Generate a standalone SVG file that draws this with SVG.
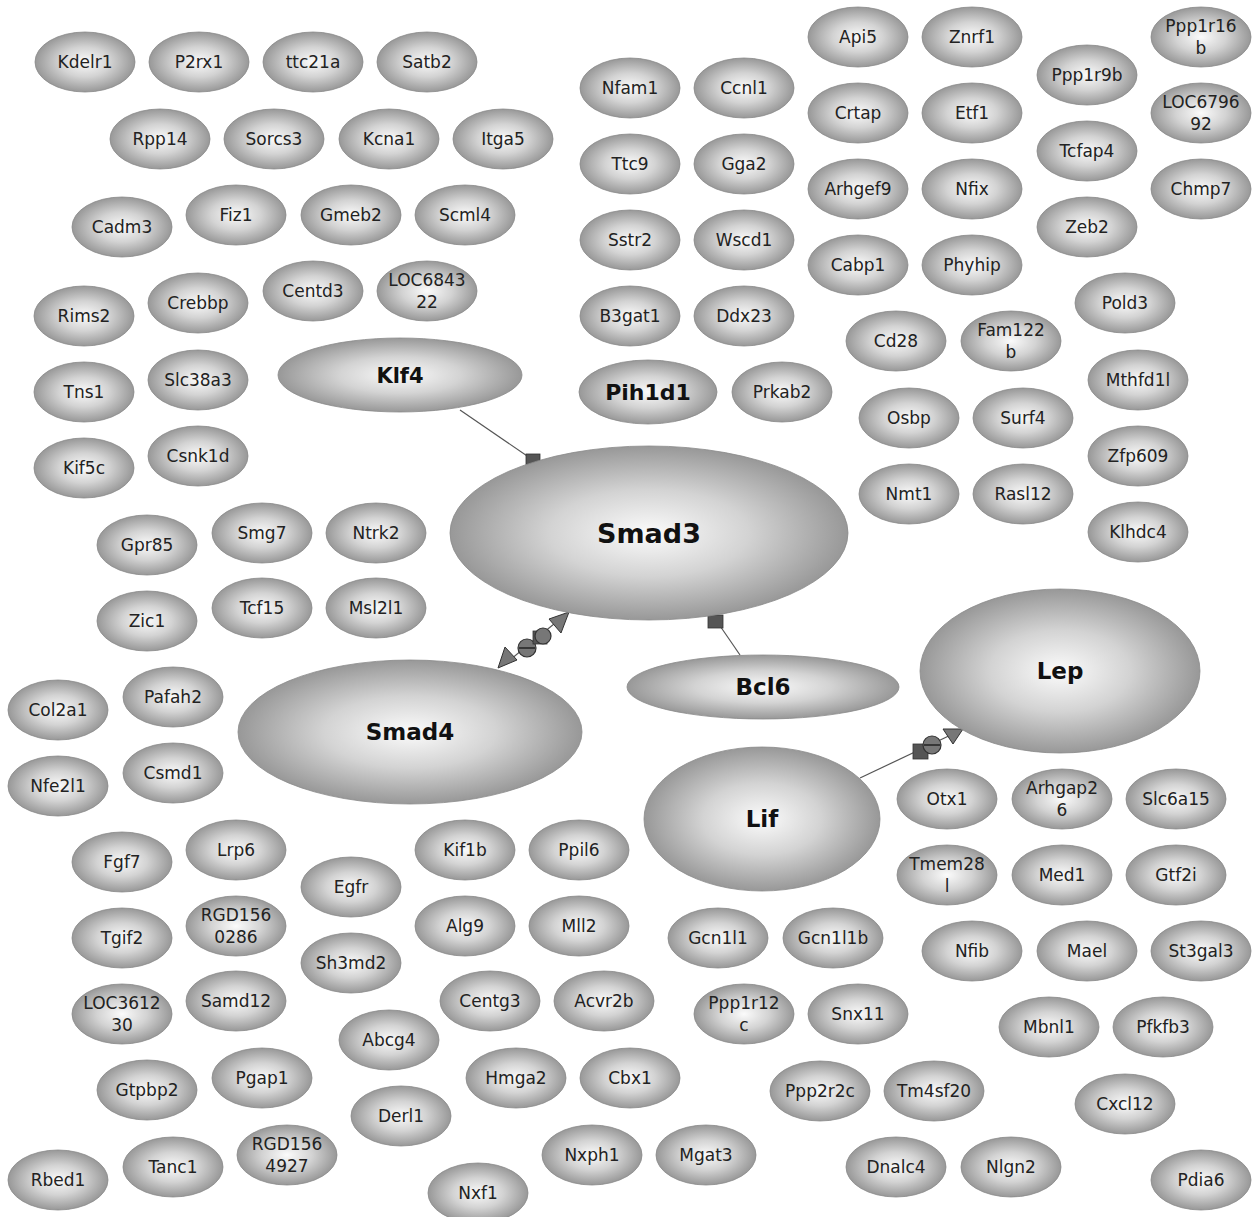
<svg xmlns="http://www.w3.org/2000/svg" width="1255" height="1217" viewBox="0 0 1255 1217">
<defs>
<radialGradient id="g" cx="50%" cy="50%" r="50%">
<stop offset="0" stop-color="#fbfbfb"/>
<stop offset="0.5" stop-color="#d3d3d3"/>
<stop offset="1" stop-color="#989898"/>
</radialGradient>
</defs>
<style>
ellipse{fill:url(#g);stroke:#8a8a8a;stroke-width:0.8}
text{font-family:"DejaVu Sans","Verdana",sans-serif;font-size:17px;fill:#222;text-anchor:middle}
.b{font-weight:bold;fill:#111}
.ln{stroke:#555;stroke-width:1.2;fill:none}
.sq{fill:#555;stroke:#333;stroke-width:0.8}
.tri{fill:#777;stroke:#333;stroke-width:1}
.ci{fill:#777;stroke:#333;stroke-width:1.2}
.mi{stroke:#222;stroke-width:1.5}
</style>
<rect width="1255" height="1217" fill="#fff"/>
<g id="connectors">
<line class="ln" x1="460" y1="410" x2="533" y2="460"/>
<rect class="sq" x="526" y="454" width="14" height="12"/>
<line class="ln" x1="740" y1="655" x2="716" y2="620"/>
<rect class="sq" x="708" y="615" width="15" height="13"/>
<line class="ln" x1="505" y1="664" x2="565" y2="615"/>
<polygon class="tri" points="498,668 517,660 505,647"/>
<circle class="ci" cx="527" cy="648" r="9"/>
<line class="mi" x1="519" y1="648" x2="535" y2="648"/>
<rect class="sq" x="533" y="631" width="14" height="13"/>
<circle class="ci" cx="543" cy="636" r="8"/>
<polygon class="tri" points="569,612 549,619 561,633"/>
<line class="ln" x1="860" y1="778" x2="955" y2="733"/>
<rect class="sq" x="913" y="744" width="15" height="15"/>
<circle class="ci" cx="932" cy="745" r="9"/>
<line class="mi" x1="924" y1="745" x2="940" y2="745"/>
<polygon class="tri" points="943,729 963,729 953,744"/>
</g>
<g id="big">
<g id="Klf4"><ellipse cx="400" cy="375" rx="122" ry="37"/><text class="b" x="400" y="383" style="font-size:21px">Klf4</text></g>
<g id="Smad3"><ellipse cx="649" cy="533" rx="199" ry="87"/><text class="b" x="649" y="543" style="font-size:27px">Smad3</text></g>
<g id="Smad4"><ellipse cx="410" cy="732" rx="172" ry="72"/><text class="b" x="410" y="740" style="font-size:23px">Smad4</text></g>
<g id="Bcl6"><ellipse cx="763" cy="687" rx="136" ry="32"/><text class="b" x="763" y="695" style="font-size:23px">Bcl6</text></g>
<g id="Lep"><ellipse cx="1060" cy="671" rx="140" ry="82"/><text class="b" x="1060" y="679" style="font-size:23px">Lep</text></g>
<g id="Lif"><ellipse cx="762" cy="819" rx="118" ry="72"/><text class="b" x="762" y="827" style="font-size:23px">Lif</text></g>
<g id="Pih1d1"><ellipse cx="648" cy="392" rx="69" ry="32"/><text class="b" x="648" y="400" style="font-size:22px">Pih1d1</text></g>
</g>
<g id="nodes">
<g id="Kdelr1"><ellipse cx="85" cy="62" rx="50" ry="30"/><text x="85" y="68">Kdelr1</text></g>
<g id="P2rx1"><ellipse cx="199" cy="62" rx="50" ry="30"/><text x="199" y="68">P2rx1</text></g>
<g id="ttc21a"><ellipse cx="313" cy="62" rx="50" ry="30"/><text x="313" y="68">ttc21a</text></g>
<g id="Satb2"><ellipse cx="427" cy="62" rx="50" ry="30"/><text x="427" y="68">Satb2</text></g>
<g id="Rpp14"><ellipse cx="160" cy="139" rx="50" ry="30"/><text x="160" y="145">Rpp14</text></g>
<g id="Sorcs3"><ellipse cx="274" cy="139" rx="50" ry="30"/><text x="274" y="145">Sorcs3</text></g>
<g id="Kcna1"><ellipse cx="389" cy="139" rx="50" ry="30"/><text x="389" y="145">Kcna1</text></g>
<g id="Itga5"><ellipse cx="503" cy="139" rx="50" ry="30"/><text x="503" y="145">Itga5</text></g>
<g id="Cadm3"><ellipse cx="122" cy="227" rx="50" ry="30"/><text x="122" y="233">Cadm3</text></g>
<g id="Fiz1"><ellipse cx="236" cy="215" rx="50" ry="30"/><text x="236" y="221">Fiz1</text></g>
<g id="Gmeb2"><ellipse cx="351" cy="215" rx="50" ry="30"/><text x="351" y="221">Gmeb2</text></g>
<g id="Scml4"><ellipse cx="465" cy="215" rx="50" ry="30"/><text x="465" y="221">Scml4</text></g>
<g id="Rims2"><ellipse cx="84" cy="316" rx="50" ry="30"/><text x="84" y="322">Rims2</text></g>
<g id="Crebbp"><ellipse cx="198" cy="303" rx="50" ry="30"/><text x="198" y="309">Crebbp</text></g>
<g id="Centd3"><ellipse cx="313" cy="291" rx="50" ry="30"/><text x="313" y="297">Centd3</text></g>
<g id="LOC684322"><ellipse cx="427" cy="291" rx="50" ry="30"/><text x="427" y="286">LOC6843</text><text x="427" y="308">22</text></g>
<g id="Tns1"><ellipse cx="84" cy="392" rx="50" ry="30"/><text x="84" y="398">Tns1</text></g>
<g id="Slc38a3"><ellipse cx="198" cy="380" rx="50" ry="30"/><text x="198" y="386">Slc38a3</text></g>
<g id="Kif5c"><ellipse cx="84" cy="468" rx="50" ry="30"/><text x="84" y="474">Kif5c</text></g>
<g id="Csnk1d"><ellipse cx="198" cy="456" rx="50" ry="30"/><text x="198" y="462">Csnk1d</text></g>
<g id="Gpr85"><ellipse cx="147" cy="545" rx="50" ry="30"/><text x="147" y="551">Gpr85</text></g>
<g id="Smg7"><ellipse cx="262" cy="533" rx="50" ry="30"/><text x="262" y="539">Smg7</text></g>
<g id="Ntrk2"><ellipse cx="376" cy="533" rx="50" ry="30"/><text x="376" y="539">Ntrk2</text></g>
<g id="Zic1"><ellipse cx="147" cy="621" rx="50" ry="30"/><text x="147" y="627">Zic1</text></g>
<g id="Tcf15"><ellipse cx="262" cy="608" rx="50" ry="30"/><text x="262" y="614">Tcf15</text></g>
<g id="Msl2l1"><ellipse cx="376" cy="608" rx="50" ry="30"/><text x="376" y="614">Msl2l1</text></g>
<g id="Col2a1"><ellipse cx="58" cy="710" rx="50" ry="30"/><text x="58" y="716">Col2a1</text></g>
<g id="Pafah2"><ellipse cx="173" cy="697" rx="50" ry="30"/><text x="173" y="703">Pafah2</text></g>
<g id="Nfe2l1"><ellipse cx="58" cy="786" rx="50" ry="30"/><text x="58" y="792">Nfe2l1</text></g>
<g id="Csmd1"><ellipse cx="173" cy="773" rx="50" ry="30"/><text x="173" y="779">Csmd1</text></g>
<g id="Fgf7"><ellipse cx="122" cy="862" rx="50" ry="30"/><text x="122" y="868">Fgf7</text></g>
<g id="Lrp6"><ellipse cx="236" cy="850" rx="50" ry="30"/><text x="236" y="856">Lrp6</text></g>
<g id="Egfr"><ellipse cx="351" cy="887" rx="50" ry="30"/><text x="351" y="893">Egfr</text></g>
<g id="Kif1b"><ellipse cx="465" cy="850" rx="50" ry="30"/><text x="465" y="856">Kif1b</text></g>
<g id="Ppil6"><ellipse cx="579" cy="850" rx="50" ry="30"/><text x="579" y="856">Ppil6</text></g>
<g id="Tgif2"><ellipse cx="122" cy="938" rx="50" ry="30"/><text x="122" y="944">Tgif2</text></g>
<g id="RGD1560286"><ellipse cx="236" cy="926" rx="50" ry="30"/><text x="236" y="921">RGD156</text><text x="236" y="943">0286</text></g>
<g id="Sh3md2"><ellipse cx="351" cy="963" rx="50" ry="30"/><text x="351" y="969">Sh3md2</text></g>
<g id="Alg9"><ellipse cx="465" cy="926" rx="50" ry="30"/><text x="465" y="932">Alg9</text></g>
<g id="Mll2"><ellipse cx="579" cy="926" rx="50" ry="30"/><text x="579" y="932">Mll2</text></g>
<g id="LOC361230"><ellipse cx="122" cy="1014" rx="50" ry="30"/><text x="122" y="1009">LOC3612</text><text x="122" y="1031">30</text></g>
<g id="Samd12"><ellipse cx="236" cy="1001" rx="50" ry="30"/><text x="236" y="1007">Samd12</text></g>
<g id="Abcg4"><ellipse cx="389" cy="1040" rx="50" ry="30"/><text x="389" y="1046">Abcg4</text></g>
<g id="Centg3"><ellipse cx="490" cy="1001" rx="50" ry="30"/><text x="490" y="1007">Centg3</text></g>
<g id="Acvr2b"><ellipse cx="604" cy="1001" rx="50" ry="30"/><text x="604" y="1007">Acvr2b</text></g>
<g id="Gtpbp2"><ellipse cx="147" cy="1090" rx="50" ry="30"/><text x="147" y="1096">Gtpbp2</text></g>
<g id="Pgap1"><ellipse cx="262" cy="1078" rx="50" ry="30"/><text x="262" y="1084">Pgap1</text></g>
<g id="Hmga2"><ellipse cx="516" cy="1078" rx="50" ry="30"/><text x="516" y="1084">Hmga2</text></g>
<g id="Cbx1"><ellipse cx="630" cy="1078" rx="50" ry="30"/><text x="630" y="1084">Cbx1</text></g>
<g id="Derl1"><ellipse cx="401" cy="1116" rx="50" ry="30"/><text x="401" y="1122">Derl1</text></g>
<g id="Rbed1"><ellipse cx="58" cy="1180" rx="50" ry="30"/><text x="58" y="1186">Rbed1</text></g>
<g id="Tanc1"><ellipse cx="173" cy="1167" rx="50" ry="30"/><text x="173" y="1173">Tanc1</text></g>
<g id="RGD1564927"><ellipse cx="287" cy="1155" rx="50" ry="30"/><text x="287" y="1150">RGD156</text><text x="287" y="1172">4927</text></g>
<g id="Nxph1"><ellipse cx="592" cy="1155" rx="50" ry="30"/><text x="592" y="1161">Nxph1</text></g>
<g id="Mgat3"><ellipse cx="706" cy="1155" rx="50" ry="30"/><text x="706" y="1161">Mgat3</text></g>
<g id="Nxf1"><ellipse cx="478" cy="1193" rx="50" ry="30"/><text x="478" y="1199">Nxf1</text></g>
<g id="Nfam1"><ellipse cx="630" cy="88" rx="50" ry="30"/><text x="630" y="94">Nfam1</text></g>
<g id="Ccnl1"><ellipse cx="744" cy="88" rx="50" ry="30"/><text x="744" y="94">Ccnl1</text></g>
<g id="Ttc9"><ellipse cx="630" cy="164" rx="50" ry="30"/><text x="630" y="170">Ttc9</text></g>
<g id="Gga2"><ellipse cx="744" cy="164" rx="50" ry="30"/><text x="744" y="170">Gga2</text></g>
<g id="Sstr2"><ellipse cx="630" cy="240" rx="50" ry="30"/><text x="630" y="246">Sstr2</text></g>
<g id="Wscd1"><ellipse cx="744" cy="240" rx="50" ry="30"/><text x="744" y="246">Wscd1</text></g>
<g id="B3gat1"><ellipse cx="630" cy="316" rx="50" ry="30"/><text x="630" y="322">B3gat1</text></g>
<g id="Ddx23"><ellipse cx="744" cy="316" rx="50" ry="30"/><text x="744" y="322">Ddx23</text></g>
<g id="Prkab2"><ellipse cx="782" cy="392" rx="50" ry="30"/><text x="782" y="398">Prkab2</text></g>
<g id="Api5"><ellipse cx="858" cy="37" rx="50" ry="30"/><text x="858" y="43">Api5</text></g>
<g id="Znrf1"><ellipse cx="972" cy="37" rx="50" ry="30"/><text x="972" y="43">Znrf1</text></g>
<g id="Ppp1r16b"><ellipse cx="1201" cy="37" rx="50" ry="30"/><text x="1201" y="32">Ppp1r16</text><text x="1201" y="54">b</text></g>
<g id="Ppp1r9b"><ellipse cx="1087" cy="75" rx="50" ry="30"/><text x="1087" y="81">Ppp1r9b</text></g>
<g id="LOC679692"><ellipse cx="1201" cy="113" rx="50" ry="30"/><text x="1201" y="108">LOC6796</text><text x="1201" y="130">92</text></g>
<g id="Crtap"><ellipse cx="858" cy="113" rx="50" ry="30"/><text x="858" y="119">Crtap</text></g>
<g id="Etf1"><ellipse cx="972" cy="113" rx="50" ry="30"/><text x="972" y="119">Etf1</text></g>
<g id="Tcfap4"><ellipse cx="1087" cy="151" rx="50" ry="30"/><text x="1087" y="157">Tcfap4</text></g>
<g id="Chmp7"><ellipse cx="1201" cy="189" rx="50" ry="30"/><text x="1201" y="195">Chmp7</text></g>
<g id="Arhgef9"><ellipse cx="858" cy="189" rx="50" ry="30"/><text x="858" y="195">Arhgef9</text></g>
<g id="Nfix"><ellipse cx="972" cy="189" rx="50" ry="30"/><text x="972" y="195">Nfix</text></g>
<g id="Zeb2"><ellipse cx="1087" cy="227" rx="50" ry="30"/><text x="1087" y="233">Zeb2</text></g>
<g id="Cabp1"><ellipse cx="858" cy="265" rx="50" ry="30"/><text x="858" y="271">Cabp1</text></g>
<g id="Phyhip"><ellipse cx="972" cy="265" rx="50" ry="30"/><text x="972" y="271">Phyhip</text></g>
<g id="Pold3"><ellipse cx="1125" cy="303" rx="50" ry="30"/><text x="1125" y="309">Pold3</text></g>
<g id="Cd28"><ellipse cx="896" cy="341" rx="50" ry="30"/><text x="896" y="347">Cd28</text></g>
<g id="Fam122b"><ellipse cx="1011" cy="341" rx="50" ry="30"/><text x="1011" y="336">Fam122</text><text x="1011" y="358">b</text></g>
<g id="Mthfd1l"><ellipse cx="1138" cy="380" rx="50" ry="30"/><text x="1138" y="386">Mthfd1l</text></g>
<g id="Osbp"><ellipse cx="909" cy="418" rx="50" ry="30"/><text x="909" y="424">Osbp</text></g>
<g id="Surf4"><ellipse cx="1023" cy="418" rx="50" ry="30"/><text x="1023" y="424">Surf4</text></g>
<g id="Zfp609"><ellipse cx="1138" cy="456" rx="50" ry="30"/><text x="1138" y="462">Zfp609</text></g>
<g id="Nmt1"><ellipse cx="909" cy="494" rx="50" ry="30"/><text x="909" y="500">Nmt1</text></g>
<g id="Rasl12"><ellipse cx="1023" cy="494" rx="50" ry="30"/><text x="1023" y="500">Rasl12</text></g>
<g id="Klhdc4"><ellipse cx="1138" cy="532" rx="50" ry="30"/><text x="1138" y="538">Klhdc4</text></g>
<g id="Otx1"><ellipse cx="947" cy="799" rx="50" ry="30"/><text x="947" y="805">Otx1</text></g>
<g id="Arhgap26"><ellipse cx="1062" cy="799" rx="50" ry="30"/><text x="1062" y="794">Arhgap2</text><text x="1062" y="816">6</text></g>
<g id="Slc6a15"><ellipse cx="1176" cy="799" rx="50" ry="30"/><text x="1176" y="805">Slc6a15</text></g>
<g id="Tmem28l"><ellipse cx="947" cy="875" rx="50" ry="30"/><text x="947" y="870">Tmem28</text><text x="947" y="892">l</text></g>
<g id="Med1"><ellipse cx="1062" cy="875" rx="50" ry="30"/><text x="1062" y="881">Med1</text></g>
<g id="Gtf2i"><ellipse cx="1176" cy="875" rx="50" ry="30"/><text x="1176" y="881">Gtf2i</text></g>
<g id="Nfib"><ellipse cx="972" cy="951" rx="50" ry="30"/><text x="972" y="957">Nfib</text></g>
<g id="Mael"><ellipse cx="1087" cy="951" rx="50" ry="30"/><text x="1087" y="957">Mael</text></g>
<g id="St3gal3"><ellipse cx="1201" cy="951" rx="50" ry="30"/><text x="1201" y="957">St3gal3</text></g>
<g id="Gcn1l1"><ellipse cx="718" cy="938" rx="50" ry="30"/><text x="718" y="944">Gcn1l1</text></g>
<g id="Gcn1l1b"><ellipse cx="833" cy="938" rx="50" ry="30"/><text x="833" y="944">Gcn1l1b</text></g>
<g id="Ppp1r12c"><ellipse cx="744" cy="1014" rx="50" ry="30"/><text x="744" y="1009">Ppp1r12</text><text x="744" y="1031">c</text></g>
<g id="Snx11"><ellipse cx="858" cy="1014" rx="50" ry="30"/><text x="858" y="1020">Snx11</text></g>
<g id="Mbnl1"><ellipse cx="1049" cy="1027" rx="50" ry="30"/><text x="1049" y="1033">Mbnl1</text></g>
<g id="Pfkfb3"><ellipse cx="1163" cy="1027" rx="50" ry="30"/><text x="1163" y="1033">Pfkfb3</text></g>
<g id="Ppp2r2c"><ellipse cx="820" cy="1091" rx="50" ry="30"/><text x="820" y="1097">Ppp2r2c</text></g>
<g id="Tm4sf20"><ellipse cx="934" cy="1091" rx="50" ry="30"/><text x="934" y="1097">Tm4sf20</text></g>
<g id="Cxcl12"><ellipse cx="1125" cy="1104" rx="50" ry="30"/><text x="1125" y="1110">Cxcl12</text></g>
<g id="Dnalc4"><ellipse cx="896" cy="1167" rx="50" ry="30"/><text x="896" y="1173">Dnalc4</text></g>
<g id="Nlgn2"><ellipse cx="1011" cy="1167" rx="50" ry="30"/><text x="1011" y="1173">Nlgn2</text></g>
<g id="Pdia6"><ellipse cx="1201" cy="1180" rx="50" ry="30"/><text x="1201" y="1186">Pdia6</text></g>
</g>
</svg>
